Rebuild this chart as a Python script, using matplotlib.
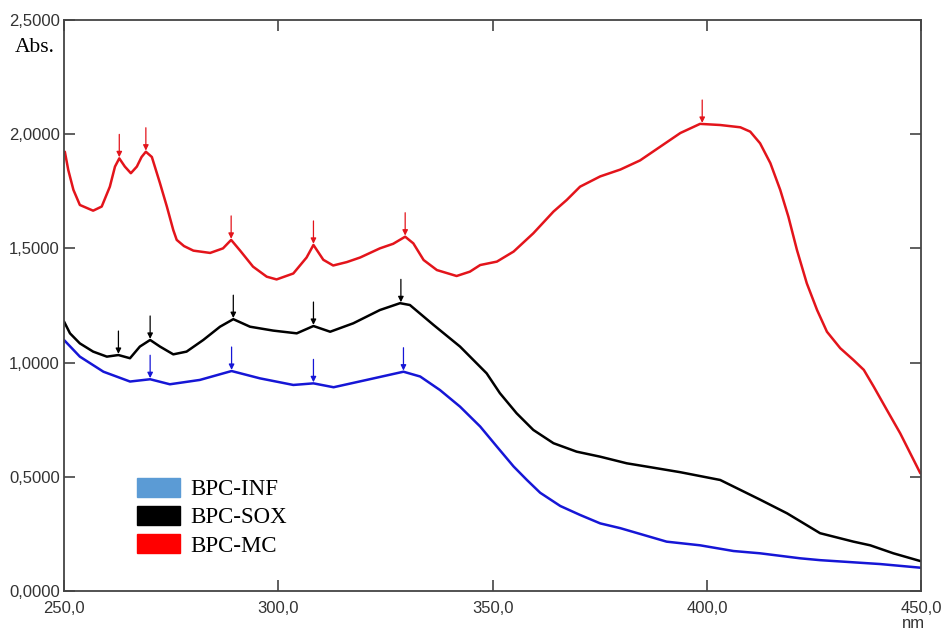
import numpy as np
import matplotlib.pyplot as plt
from matplotlib.patches import Patch

# wavelengths (nm) and absorbance
mc_nm = [250.2, 251.0, 252.2, 253.7, 256.8, 258.8, 260.7, 261.9, 262.9, 264.2, 265.6, 267.0,
         268.1, 269.1, 270.5, 272.4, 274.0, 275.5, 276.3, 278.0, 280.2, 284.1, 287.1, 289.0,
         291.1, 294.1, 297.3, 299.6, 303.5, 306.6, 308.2, 310.5, 312.8, 316.0, 319.1, 323.7,
         326.8, 329.6, 331.5, 333.9, 337.0, 341.6, 344.7, 347.1, 351.0, 354.9, 359.5, 364.2,
         367.3, 370.4, 375.1, 379.8, 384.4, 389.1, 393.8, 398.4, 403.1, 407.8, 410.1, 412.4,
         414.8, 417.1, 419.0, 421.0, 423.3, 425.7, 428.0, 431.1, 434.2, 436.6, 438.9, 442.0,
         445.1, 449.8]
mc_abs = [1.923, 1.843, 1.756, 1.69, 1.665, 1.683, 1.77, 1.858, 1.894, 1.858, 1.829, 1.858,
          1.90, 1.923, 1.90, 1.785, 1.683, 1.58, 1.537, 1.51, 1.49, 1.48, 1.50, 1.537,
          1.49, 1.42, 1.376, 1.364, 1.39, 1.46, 1.515, 1.45, 1.425, 1.44, 1.46, 1.50,
          1.52, 1.551, 1.522, 1.449, 1.405, 1.379, 1.398, 1.427, 1.442, 1.486, 1.566, 1.661,
          1.712, 1.77, 1.815, 1.845, 1.885, 1.945, 2.005, 2.045, 2.04, 2.03, 2.011, 1.96,
          1.873, 1.756, 1.639, 1.493, 1.347, 1.23, 1.135, 1.063, 1.011, 0.968, 0.895, 0.792,
          0.69, 0.515]

sox_nm = [250.0, 251.4, 253.7, 256.8, 260.0, 262.7, 265.4, 267.7, 270.1, 272.4, 275.5,
          278.6, 282.5, 286.4, 289.5, 293.4, 298.8, 304.3, 308.2, 312.1, 317.5, 323.7,
          328.4, 330.7, 336.2, 342.4, 348.6, 351.7, 355.6, 359.5, 364.2, 369.6, 375.1,
          381.3, 386.8, 393.8, 403.1, 412.4, 418.7, 426.4, 434.2, 438.1, 443.5, 449.8]
sox_abs = [1.18, 1.128, 1.084, 1.048, 1.026, 1.033, 1.019, 1.07, 1.099, 1.07, 1.036,
           1.048, 1.099, 1.157, 1.19, 1.157, 1.14, 1.128, 1.16, 1.135, 1.172, 1.23,
           1.26, 1.252, 1.165, 1.07, 0.953, 0.866, 0.778, 0.705, 0.647, 0.61, 0.588,
           0.559, 0.542, 0.52, 0.486, 0.40, 0.34, 0.253, 0.216, 0.20, 0.165, 0.131]

inf_nm = [250.0, 253.7, 259.2, 265.4, 270.1, 274.7, 281.7, 289.1, 295.7, 303.5, 308.2,
          312.9, 320.6, 329.2, 333.1, 337.7, 342.4, 347.1, 351.0, 354.9, 358.0, 361.1,
          365.8, 370.4, 375.1, 379.8, 390.6, 398.4, 406.2, 412.4, 421.8, 426.4, 440.4, 449.8]
inf_abs = [1.099, 1.026, 0.96, 0.917, 0.927, 0.905, 0.924, 0.963, 0.931, 0.902, 0.909,
           0.892, 0.924, 0.96, 0.939, 0.88, 0.807, 0.72, 0.632, 0.545, 0.486, 0.43,
           0.372, 0.333, 0.296, 0.275, 0.216, 0.20, 0.175, 0.165, 0.143, 0.135, 0.118, 0.102]

# peaks marked with arrows
mc_peaks = [262.9, 269.1, 289.0, 308.2, 329.6, 398.9]
sox_peaks = [262.7, 270.1, 289.5, 308.2, 328.6]
inf_peaks = [270.1, 289.1, 308.2, 329.2]

labels = ['BPC-INF', 'BPC-SOX', 'BPC-MC']
red = '#e3141b'
blue = '#1616d6'

fig = plt.figure(figsize=(9.41, 6.31), dpi=100)
ax = fig.add_axes([0.068, 0.0634, 0.911, 0.905])

series = [(inf_nm, inf_abs, inf_peaks, blue),
          (sox_nm, sox_abs, sox_peaks, 'black'),
          (mc_nm, mc_abs, mc_peaks, red)]

for nm, ab, peaks, col in series:
    ax.plot(nm, ab, color=col, lw=1.8, solid_joinstyle='round', solid_capstyle='round')
    for p in peaks:
        yv = np.interp(p, nm, ab)
        ax.annotate('', xy=(p, yv + 0.005), xytext=(p, yv + 0.105),
                    arrowprops=dict(arrowstyle='-|>', color=col, lw=0.9,
                                    mutation_scale=8, shrinkA=0, shrinkB=0))

ax.set_xlim(250, 450)
ax.set_ylim(0, 2.5)
ax.set_xticks([250, 300, 350, 400, 450])
ax.set_xticklabels(['250,0', '300,0', '350,0', '400,0', '450,0'])
ax.set_yticks([0, 0.5, 1.0, 1.5, 2.0, 2.5])
ax.set_yticklabels(['0,0000', '0,5000', '1,0000', '1,5000', '2,0000', '2,5000'])
ax.tick_params(direction='in', length=8, width=1.2, color='#444444',
               top=True, right=True, labelsize=12)
ax.tick_params(axis='x', pad=7)
ax.tick_params(axis='y', pad=3)
for lab in ax.get_xticklabels() + ax.get_yticklabels():
    lab.set_fontfamily('Liberation Sans')
    lab.set_color('#333333')
for s in ax.spines.values():
    s.set_color('#444444')
    s.set_linewidth(1.3)

fig.text(0.016, 0.917, 'Abs.', fontfamily='Liberation Serif', fontsize=15.5)
fig.text(0.958, 0.004, 'nm', fontfamily='Liberation Sans', fontsize=12, color='#333333')

handles = [Patch(color='#5b9bd5'), Patch(color='black'), Patch(color='#ff0000')]
ax.legend(handles, labels, loc='lower left', bbox_to_anchor=(0.066, 0.032), frameon=False,
          prop={'family': 'Liberation Serif', 'size': 16.5}, handlelength=1.9,
          handleheight=0.9, labelspacing=0.26, handletextpad=0.45, borderpad=0.2)

fig.savefig('out.png', dpi=100)
